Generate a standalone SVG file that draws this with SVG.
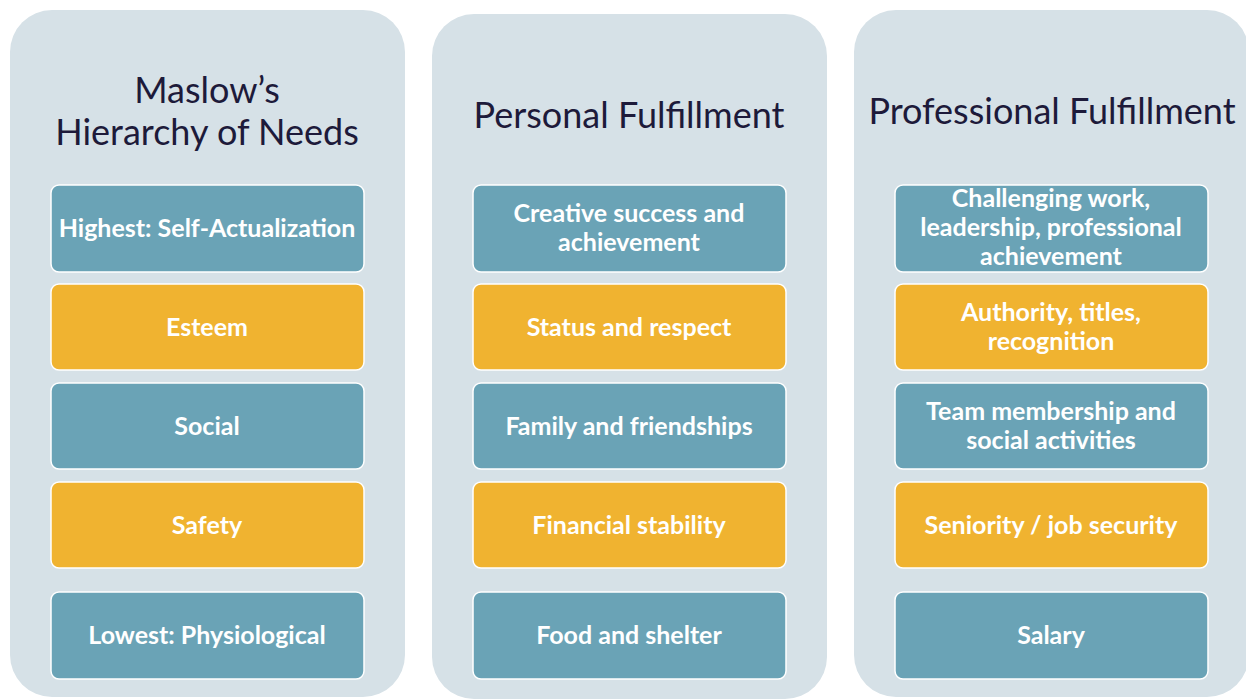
<svg xmlns="http://www.w3.org/2000/svg" width="1246" height="700" viewBox="0 0 1246 700">
<style>
.panel{fill:#d6e1e7;}
.t{fill:#6aa3b6;stroke:#ffffff;stroke-width:1.5;}
.o{fill:#f0b330;stroke:#ffffff;stroke-width:1.5;}
.title{font-family:Lato,"Open Sans",sans-serif;font-size:36px;fill:#1d1a3a;text-anchor:middle;}
.lbl{font-family:Lato,"Open Sans",sans-serif;font-weight:bold;font-size:25px;fill:#ffffff;text-anchor:middle;}
</style>
<rect width="1246" height="700" fill="#ffffff"/>
<g id="panel-maslow">
<rect class="panel" x="10" y="10" width="395" height="687" rx="42"/>
<text class="title" x="207" y="103">Maslow’s</text>
<text class="title" x="207" y="145">Hierarchy of Needs</text>
</g>
<g id="panel-personal">
<rect class="panel" x="432" y="14" width="395" height="685" rx="42"/>
<text class="title" x="629" y="128">Personal Fulfillment</text>
</g>
<g id="panel-professional">
<rect class="panel" x="854" y="10" width="395" height="687" rx="42"/>
<text class="title" x="1052" y="124">Professional Fulfillment</text>
</g>
<g id="m1"><rect class="t" x="51" y="185" width="313" height="87" rx="8"/><text class="lbl" x="207" y="237">Highest: Self-Actualization</text></g>
<g id="m2"><rect class="o" x="51" y="284" width="313" height="86" rx="8"/><text class="lbl" x="207" y="336">Esteem</text></g>
<g id="m3"><rect class="t" x="51" y="383" width="313" height="86" rx="8"/><text class="lbl" x="207" y="435">Social</text></g>
<g id="m4"><rect class="o" x="51" y="482" width="313" height="86" rx="8"/><text class="lbl" x="207" y="534">Safety</text></g>
<g id="m5"><rect class="t" x="51" y="592" width="313" height="87" rx="8"/><text class="lbl" x="207" y="644">Lowest: Physiological</text></g>
<g id="p1"><rect class="t" x="473" y="185" width="313" height="87" rx="8"/><text class="lbl" x="629" y="222">Creative success and</text><text class="lbl" x="629" y="251">achievement</text></g>
<g id="p2"><rect class="o" x="473" y="284" width="313" height="86" rx="8"/><text class="lbl" x="629" y="336">Status and respect</text></g>
<g id="p3"><rect class="t" x="473" y="383" width="313" height="86" rx="8"/><text class="lbl" x="629" y="435">Family and friendships</text></g>
<g id="p4"><rect class="o" x="473" y="482" width="313" height="86" rx="8"/><text class="lbl" x="629" y="534">Financial stability</text></g>
<g id="p5"><rect class="t" x="473" y="592" width="313" height="87" rx="8"/><text class="lbl" x="629" y="644">Food and shelter</text></g>
<g id="r1"><rect class="t" x="895" y="185" width="313" height="87" rx="8"/><text class="lbl" x="1051" y="207">Challenging work,</text><text class="lbl" x="1051" y="236">leadership, professional</text><text class="lbl" x="1051" y="265">achievement</text></g>
<g id="r2"><rect class="o" x="895" y="284" width="313" height="86" rx="8"/><text class="lbl" x="1051" y="321">Authority, titles,</text><text class="lbl" x="1051" y="350">recognition</text></g>
<g id="r3"><rect class="t" x="895" y="383" width="313" height="86" rx="8"/><text class="lbl" x="1051" y="420">Team membership and</text><text class="lbl" x="1051" y="449">social activities</text></g>
<g id="r4"><rect class="o" x="895" y="482" width="313" height="86" rx="8"/><text class="lbl" x="1051" y="534">Seniority / job security</text></g>
<g id="r5"><rect class="t" x="895" y="592" width="313" height="87" rx="8"/><text class="lbl" x="1051" y="644">Salary</text></g>
<g id="connectors"/>
</svg>
